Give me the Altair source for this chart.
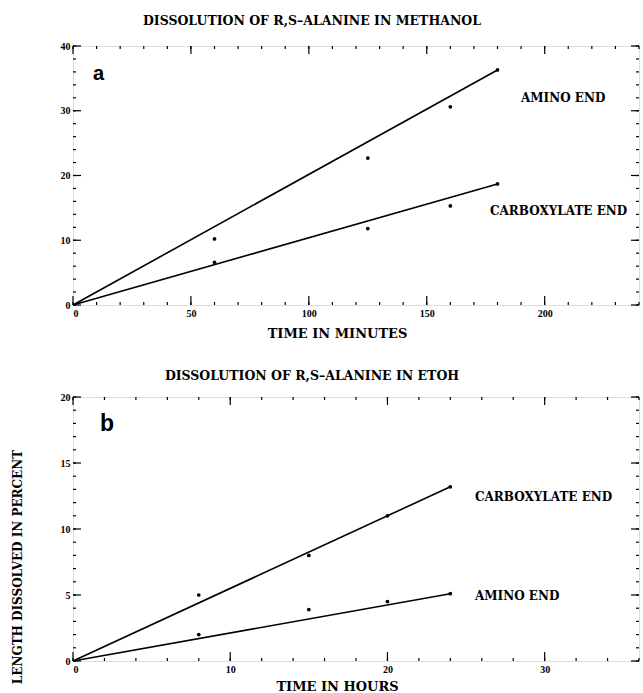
import altair as alt
import pandas as pd

# ---------------- data ----------------
# panel a : methanol, time in minutes
a_time = [60, 125, 160, 180]
a_amino = [10.2, 22.7, 30.6, 36.3]
a_carb = [6.6, 11.8, 15.3, 18.7]
a_fit_time = [0, 180]
a_amino_fit = [0, 36.3]
a_carb_fit = [0, 18.7]
a_x_labels = [0, 50, 100, 150, 200]
a_y_labels = [0, 10, 20, 30, 40]
a_x_minor = list(range(0, 241, 10))
a_y_minor = list(range(0, 41, 2))

# panel b : ethanol, time in hours
b_time = [8, 15, 20, 24]
b_carb = [5.0, 8.0, 11.0, 13.2]
b_amino = [2.0, 3.9, 4.5, 5.1]
b_fit_time = [0, 24]
b_carb_fit = [0, 13.2]
b_amino_fit = [0, 5.1]
b_x_labels = [0, 10, 20, 30]
b_y_labels = [0, 5, 10, 15, 20]
b_x_minor = list(range(0, 37, 2))
b_y_minor = list(range(0, 21, 1))

SERIF = "DejaVu Serif"
TICKF = "Liberation Serif"
SANS = "Liberation Sans"


def panel(W, H, xdom, ydom, xlab, ylab, xminor, yminor,
          t, s1, s2, fit_t, f1, f2, xtitle, title_y, title, title_offset,
          letter, letter_pos, letter_size, labels, extra=None):
    xs = alt.Scale(domain=xdom, nice=False, zero=False)
    ys = alt.Scale(domain=ydom, nice=False, zero=False)
    xaxis = alt.Axis(values=xlab, title=xtitle, titleX=264, titleY=title_y,
                     titleBaseline="alphabetic", labelPadding=3, format="d",
                     grid=False, ticks=False, domain=False,
                     labelFont=TICKF, labelFontWeight="bold", labelFontSize=10,
                     labelColor="black", titleFont=SERIF, titleFontWeight="bold",
                     titleFontSize=13, titleColor="black")
    yaxis = alt.Axis(values=ylab, title=None, labelPadding=3, format="d",
                     grid=False, ticks=False, domain=False,
                     labelFont=TICKF, labelFontWeight="bold", labelFontSize=10,
                     labelColor="black")

    pts = pd.DataFrame({"x": t * 2, "y": s1 + s2,
                        "s": ["A"] * len(t) + ["B"] * len(t)})
    fits = pd.DataFrame({"x": fit_t * 2, "y": f1 + f2,
                         "s": ["A"] * len(fit_t) + ["B"] * len(fit_t)})

    X = alt.X("x:Q", scale=xs, axis=xaxis)
    Y = alt.Y("y:Q", scale=ys, axis=yaxis)

    lines = alt.Chart(fits).mark_line(color="black", strokeWidth=1.6).encode(
        x=X, y=Y, detail="s:N")
    dots = alt.Chart(pts).mark_circle(color="black", size=14, opacity=1).encode(
        x=X, y=Y)

    def xt(vals, y0, y1):
        return alt.Chart(pd.DataFrame({"x": vals})).mark_rule(
            color="black", strokeWidth=1.2).encode(
            x=X, y=alt.value(y0), y2=alt.value(y1))

    def yt(vals, x0, x1):
        return alt.Chart(pd.DataFrame({"y": vals})).mark_rule(
            color="black", strokeWidth=1.2).encode(
            y=Y, x=alt.value(x0), x2=alt.value(x1))

    ticks = [
        xt(xminor, H, H - 3), xt(xlab, H, H - 9),
        xt(xminor, 0, 3), xt(xlab, 0, 8),
        yt(yminor, 0, 3), yt(ylab, 0, 8),
        yt(yminor, W, W - 3), yt(ylab, W, W - 8),
    ]

    texts = []
    for txt, px, py in labels:
        texts.append(alt.Chart(pd.DataFrame({"t": [txt]})).mark_text(
            font=SERIF, fontWeight="bold", fontSize=12, align="left",
            baseline="middle", color="black").encode(
            text="t:N", x=alt.value(px), y=alt.value(py)))
    texts.append(alt.Chart(pd.DataFrame({"t": [letter]})).mark_text(
        font=SANS, fontWeight="bold", fontSize=letter_size, align="left",
        baseline="alphabetic", color="black").encode(
        text="t:N", x=alt.value(letter_pos[0]), y=alt.value(letter_pos[1])))
    if extra is not None:
        texts.append(extra)

    return alt.layer(lines, dots, *ticks, *texts).properties(
        width=W, height=H,
        title=alt.TitleParams(title, font=SERIF, fontWeight="bold",
                              fontSize=12.5, anchor="middle", dx=-44,
                              offset=title_offset, color="black"))


ytitle = alt.Chart(pd.DataFrame({"t": ["LENGTH DISSOLVED IN PERCENT"]})).mark_text(
    font=SERIF, fontWeight="bold", fontSize=12, align="center",
    baseline="middle", angle=270, color="black").encode(
    text="t:N", x=alt.value(-55), y=alt.value(170))

pa = panel(566, 259, [0, 240], [0, 40], a_x_labels, a_y_labels,
           a_x_minor, a_y_minor, a_time, a_amino, a_carb,
           a_fit_time, a_amino_fit, a_carb_fit,
           "TIME IN MINUTES", 32, "DISSOLUTION OF R,S\u2013ALANINE IN METHANOL", 14,
           "a", (20, 34), 20,
           [("AMINO END", 448, 52), ("CARBOXYLATE END", 417, 165)])

pb = panel(566, 264, [0, 36], [0, 20], b_x_labels, b_y_labels,
           b_x_minor, b_y_minor, b_time, b_carb, b_amino,
           b_fit_time, b_carb_fit, b_amino_fit,
           "TIME IN HOURS", 29, "DISSOLUTION OF R,S\u2013ALANINE IN ETOH", 10,
           "b", (27, 34), 23,
           [("CARBOXYLATE END", 402, 100), ("AMINO END", 402, 199)],
           extra=ytitle)

chart = alt.vconcat(pa, pb, spacing=28).properties(
    padding={"left": 11, "top": 14, "right": 1, "bottom": 0}
).configure_view(stroke="black", strokeWidth=1.5).configure_axis(
    ticks=False, domain=False, grid=False
).configure(background="white")

chart.save("out.html", embed_options={"renderer": "svg", "actions": False})
